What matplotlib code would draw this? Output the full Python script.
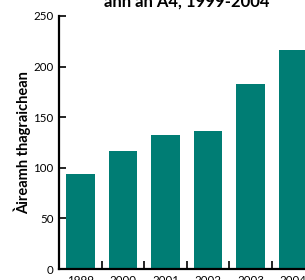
import numpy as np
import matplotlib.pyplot as plt
import matplotlib.ticker as ticker

years = ['1999', '2000', '2001', '2002', '2003', '2004']
counts = [94, 117, 132, 136, 183, 216]

plt.rcParams['font.family'] = ['Lato', 'DejaVu Sans']

fig = plt.figure(figsize=(3.05, 2.8), dpi=100)
ax = fig.add_axes([59 / 305, 11 / 280, 255.6 / 305, 253 / 280])

x = np.arange(len(years))
ax.bar(x, counts, width=0.67, color='#007d74')

ax.set_xlim(-0.5, len(years) - 0.5)
ax.set_ylim(0, 250)
ax.yaxis.set_major_locator(ticker.MultipleLocator(50))

ax.set_xticks(x)
ax.set_xticklabels(years)
ax.xaxis.set_minor_locator(ticker.FixedLocator(x[:-1] + 0.5))
ax.tick_params(axis='x', which='major', length=0, pad=4, labelsize=8.3)
ax.tick_params(axis='x', which='minor', direction='in', length=6, width=1.2)
ax.tick_params(axis='y', direction='in', length=5, width=1.2, pad=4, labelsize=8.3)

for s in ['top', 'right']:
    ax.spines[s].set_visible(False)
for s in ['left', 'bottom']:
    ax.spines[s].set_linewidth(1.6)

ax.set_ylabel('Àireamh thagraichean', fontsize=10.5, fontweight='bold')
ax.yaxis.set_label_coords(-0.11, 0.5)

fig.text(0.613, 0.978, 'ann an A4, 1999-2004', ha='center', va='baseline',
         fontsize=12, fontweight='bold')

fig.savefig('out.png', dpi=100)
